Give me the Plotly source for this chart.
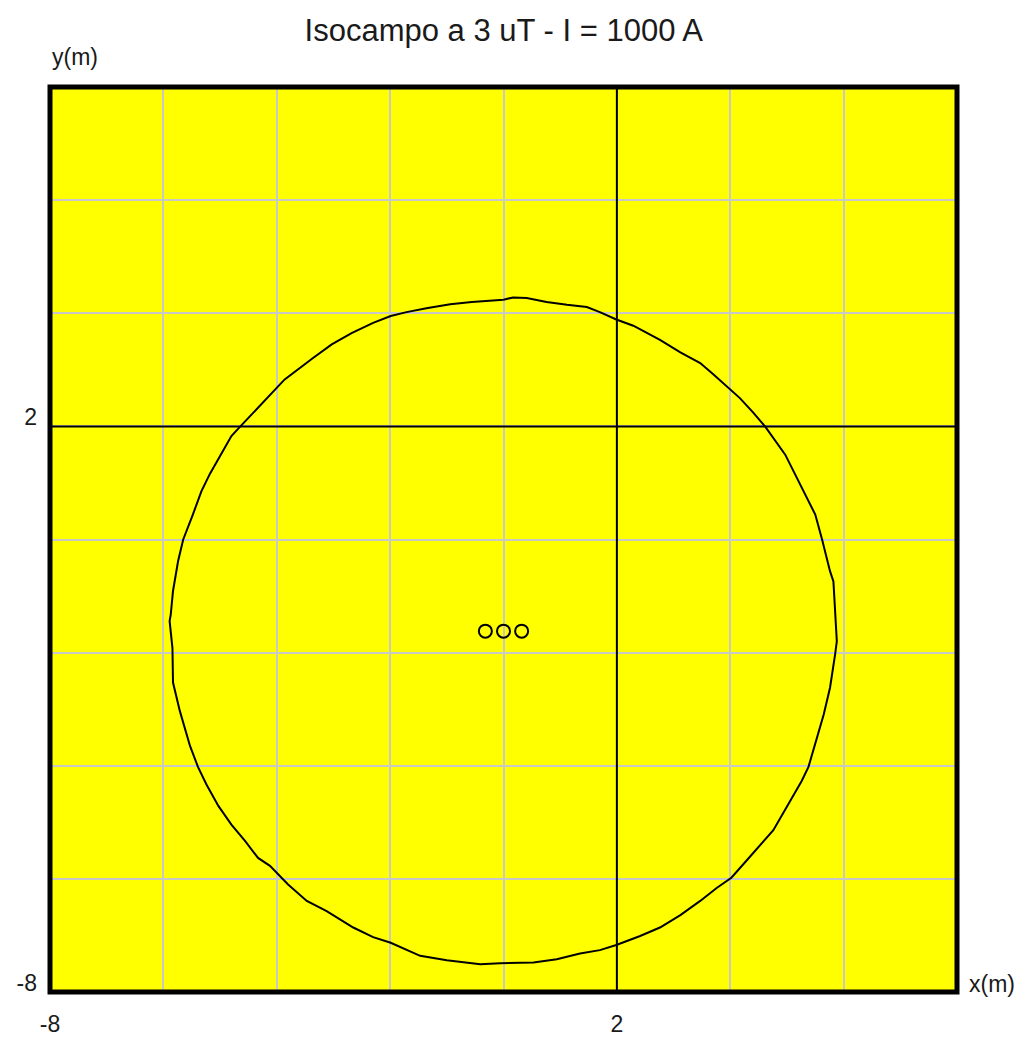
import plotly.graph_objects as go

# ---- data ----
x_range = [-8, 8]
y_range = [-8, 8]
grid_step = 2
tick_vals = [-8, 2]
tick_text = ["-8", "2"]
ref_x = 2
ref_y = 2

contour_x = [0.00, 0.17, 0.41, 0.76, 1.12, 1.47, 1.70, 1.99, 2.29, 2.76,
             3.12, 3.47, 3.70, 4.06, 4.17, 4.41, 4.62, 4.97, 5.18, 5.50,
             5.62, 5.76, 5.82, 5.85, 5.88, 5.85, 5.76, 5.65, 5.50, 5.38,
             5.26, 5.00, 4.76, 4.32, 4.02, 3.76, 3.47, 3.12, 2.76, 2.41,
             1.99, 1.70, 1.35, 0.94, 0.53, -0.06, -0.41, -1.00, -1.47, -1.99,
             -2.30, -2.65, -3.12, -3.47, -3.80, -4.12, -4.33, -4.56, -4.80, -5.03,
             -5.24, -5.39, -5.53, -5.71, -5.83, -5.84, -5.89, -5.87, -5.83, -5.74,
             -5.65, -5.48, -5.33, -5.18, -5.00, -4.80, -4.65, -4.33, -4.03, -3.86,
             -3.68, -3.36, -3.03, -2.68, -2.30, -1.99, -1.71, -1.36, -0.94, -0.56]
contour_y = [4.24, 4.28, 4.27, 4.20, 4.15, 4.11, 4.02, 3.89, 3.78, 3.53,
             3.31, 3.12, 2.92, 2.59, 2.50, 2.24, 1.99, 1.50, 1.09, 0.44,
             0.00, -0.56, -0.74, -1.33, -1.80, -2.03, -2.62, -3.09, -3.62, -4.02,
             -4.27, -4.71, -5.14, -5.64, -5.98, -6.16, -6.39, -6.64, -6.86, -7.01,
             -7.17, -7.26, -7.32, -7.42, -7.48, -7.49, -7.51, -7.44, -7.36, -7.13,
             -7.03, -6.86, -6.57, -6.39, -6.10, -5.77, -5.63, -5.33, -5.04, -4.71,
             -4.33, -4.02, -3.65, -3.03, -2.53, -1.92, -1.44, -1.33, -0.91, -0.38,
             0.00, 0.44, 0.85, 1.16, 1.47, 1.83, 1.99, 2.34, 2.65, 2.83,
             2.97, 3.21, 3.45, 3.65, 3.83, 3.95, 4.02, 4.09, 4.16, 4.20]

cond_x = [-0.32, 0.00, 0.32]
cond_y = [-1.62, -1.62, -1.62]

title_text = "Isocampo a 3 uT - I = 1000 A"
x_label = "x(m)"
y_label = "y(m)"

FONT = "Liberation Sans, Arial, sans-serif"
TXT = "#1a1a1a"

fig = go.Figure()

# reference lines
fig.add_trace(go.Scatter(x=[ref_x, ref_x], y=y_range, mode="lines",
                         line=dict(color="black", width=2), hoverinfo="skip"))
fig.add_trace(go.Scatter(x=x_range, y=[ref_y, ref_y], mode="lines",
                         line=dict(color="black", width=2), hoverinfo="skip"))

# isofield contour (closed)
fig.add_trace(go.Scatter(x=contour_x + contour_x[:1], y=contour_y + contour_y[:1],
                         mode="lines", line=dict(color="black", width=2)))

# conductors
fig.add_trace(go.Scatter(x=cond_x, y=cond_y, mode="markers",
                         marker=dict(symbol="circle-open", size=13,
                                     color="black", line=dict(width=2, color="black"))))

axis_common = dict(
    showline=False, showgrid=False, zeroline=False, ticks="", automargin=False,
    tickvals=tick_vals, ticktext=tick_text,
    tickfont=dict(family=FONT, size=23, color=TXT),
    minor=dict(tick0=x_range[0], dtick=grid_step, showgrid=True,
               gridcolor="#c8c8c8", gridwidth=2, ticks=""),
)

fig.update_layout(
    width=1024, height=1041,
    margin=dict(l=50, r=67, t=87, b=49),
    paper_bgcolor="white", plot_bgcolor="#ffff00",
    showlegend=False,
    title=dict(text=title_text, x=0.492, xanchor="center",
               y=1 - 30 / 1041, yref="container", yanchor="middle",
               font=dict(family=FONT, size=31, color=TXT)),
    xaxis=dict(range=x_range, ticklabelstandoff=16, **axis_common),
    yaxis=dict(range=y_range, ticklabelstandoff=12, ticklabelshift=-9, **axis_common),
    shapes=[dict(type="rect", xref="paper", yref="paper", x0=0, x1=1, y0=0, y1=1,
                 line=dict(color="black", width=5), layer="above")],
    annotations=[
        dict(text=y_label, xref="paper", yref="paper", x=0, y=1,
             xanchor="left", yanchor="bottom", yshift=15, showarrow=False,
             font=dict(family=FONT, size=23, color=TXT)),
        dict(text=x_label, xref="paper", yref="paper", x=1, y=0,
             xanchor="left", yanchor="middle", xshift=10, yshift=8, showarrow=False,
             font=dict(family=FONT, size=23, color=TXT)),
    ],
)

fig.write_html("out.html", config={"displayModeBar": False},
               post_script="document.body.style.margin='0';document.body.style.overflow='hidden';")
